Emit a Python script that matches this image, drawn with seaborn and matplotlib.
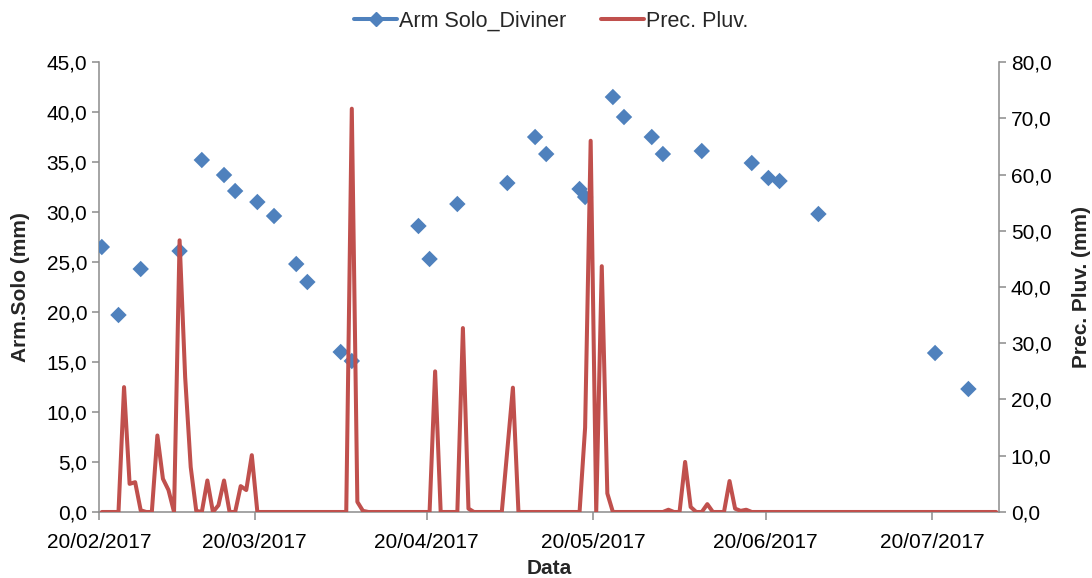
import numpy as np
import pandas as pd
import seaborn as sns
import matplotlib.pyplot as plt
import matplotlib.dates as mdates
from matplotlib.lines import Line2D
from matplotlib.ticker import FuncFormatter, MultipleLocator

sns.set_style("ticks")
plt.rcParams['font.family'] = ['Liberation Sans', 'DejaVu Sans']
plt.rcParams['font.size'] = 15

# Soil water storage (Diviner probe), mm
solo_dates = [
    '20/02/2017', '23/02/2017', '27/02/2017', '06/03/2017', '10/03/2017',
    '14/03/2017', '16/03/2017', '20/03/2017', '23/03/2017', '27/03/2017',
    '29/03/2017', '04/04/2017', '06/04/2017', '18/04/2017', '20/04/2017',
    '25/04/2017', '04/05/2017', '09/05/2017', '11/05/2017', '17/05/2017',
    '18/05/2017', '23/05/2017', '25/05/2017', '30/05/2017', '01/06/2017',
    '08/06/2017', '17/06/2017', '20/06/2017', '22/06/2017', '29/06/2017',
    '20/07/2017', '26/07/2017',
]
solo_vals = [
    26.5, 19.7, 24.3, 26.1, 35.2, 33.7, 32.1, 31.0, 29.6, 24.8,
    23.0, 16.0, 15.1, 28.6, 25.3, 30.8, 32.9, 37.5, 35.8, 32.3,
    31.5, 41.5, 39.5, 37.5, 35.8, 36.1, 34.9, 33.4, 33.1, 29.8,
    15.9, 12.3,
]

# Daily rainfall from 20/02/2017 to 31/07/2017, mm
prec_start = '2017-02-20'
prec_vals = [
    0, 0, 0, 0, 22.2, 5.0, 5.3, 0.3, 0, 0,
    13.6, 5.9, 3.9, 0, 48.3, 24.0, 8.0, 0.2, 0, 5.6,
    0, 1.2, 5.6, 0, 0, 4.6, 3.9, 10.1, 0, 0,
    0, 0, 0, 0, 0, 0, 0, 0, 0, 0,
    0, 0, 0, 0, 0, 71.7, 1.8, 0.2, 0, 0,
    0, 0, 0, 0, 0, 0, 0, 0, 0, 0,
    25.0, 0, 0, 0, 0, 32.7, 0.6, 0, 0, 0,
    0, 0, 0, 11.0, 22.1, 0, 0, 0, 0, 0,
    0, 0, 0, 0, 0, 0, 0, 15.0, 66.0, 0,
    43.7, 3.3, 0, 0, 0, 0, 0, 0, 0, 0,
    0, 0, 0.4, 0, 0, 8.9, 0.9, 0, 0, 1.4,
    0, 0, 0, 5.5, 0.6, 0.2, 0.4, 0, 0, 0,
    0, 0, 0, 0, 0, 0, 0, 0, 0, 0,
    0, 0, 0, 0, 0, 0, 0, 0, 0, 0,
    0, 0, 0, 0, 0, 0, 0, 0, 0, 0,
    0, 0, 0, 0, 0, 0, 0, 0, 0, 0,
    0, 0,
]

tick_dates = ['20/02/2017', '20/03/2017', '20/04/2017',
              '20/05/2017', '20/06/2017', '20/07/2017']

blue = '#4F81BD'
red = '#C0504D'
gray = '#8C8C8C'

# points sit in the middle of each day (Excel "between tick marks")
half_day = pd.Timedelta(hours=12)
solo_df = pd.DataFrame({
    'data': pd.to_datetime(solo_dates, format='%d/%m/%Y') + half_day,
    'arm': solo_vals,
})
prec_df = pd.DataFrame({
    'data': pd.date_range(prec_start, periods=len(prec_vals), freq='D') + half_day,
    'prec': prec_vals,
})

fig, ax = plt.subplots(figsize=(10.92, 5.78), dpi=100)
fig.subplots_adjust(left=0.0907, right=0.9148, top=0.8927, bottom=0.1142)
ax2 = ax.twinx()

sns.scatterplot(data=solo_df, x='data', y='arm', ax=ax, marker='D', s=70,
                color=blue, edgecolor='none', zorder=3, legend=False)
sns.lineplot(data=prec_df, x='data', y='prec', ax=ax2, color=red,
             linewidth=2.9, legend=False)

ax.set_xlim(pd.Timestamp('2017-02-20'), pd.Timestamp('2017-08-01'))
ax.set_ylim(0, 45)
ax2.set_ylim(0, 80)
ax.yaxis.set_major_locator(MultipleLocator(5))
ax2.yaxis.set_major_locator(MultipleLocator(10))

comma = FuncFormatter(lambda v, p: f"{v:.1f}".replace('.', ','))
ax.yaxis.set_major_formatter(comma)
ax2.yaxis.set_major_formatter(comma)

ax.set_xticks(pd.to_datetime(tick_dates, format='%d/%m/%Y'))
ax.xaxis.set_major_formatter(mdates.DateFormatter('%d/%m/%Y'))

for a in (ax, ax2):
    a.spines['top'].set_visible(False)
    for s in ('left', 'right', 'bottom'):
        a.spines[s].set_color(gray)
        a.spines[s].set_linewidth(1.1)
    a.tick_params(colors=gray, labelcolor='black', labelsize=15,
                  length=5, width=1.1)
ax.tick_params(axis='x', length=6, pad=9)
ax.spines['right'].set_visible(False)
ax2.spines['left'].set_visible(False)
ax2.spines['bottom'].set_visible(False)

ax.set_xlabel('Data', fontweight='bold', fontsize=15, labelpad=5)
ax.set_ylabel('Arm.Solo (mm)', fontweight='bold', fontsize=15, labelpad=12)
ax2.set_ylabel('Prec. Pluv. (mm)', fontweight='bold', fontsize=15, labelpad=15)

handles = [
    Line2D([], [], color=blue, lw=2.9, marker='D', markersize=7),
    Line2D([], [], color=red, lw=2.9),
]
fig.legend(handles, ['Arm Solo_Diviner', 'Prec. Pluv.'], loc='upper center',
           bbox_to_anchor=(0.505, 1.015), ncol=2, frameon=False, fontsize=15.5,
           handlelength=2.0, handletextpad=0.1, columnspacing=1.6)

plt.savefig('out.png', dpi=100)
